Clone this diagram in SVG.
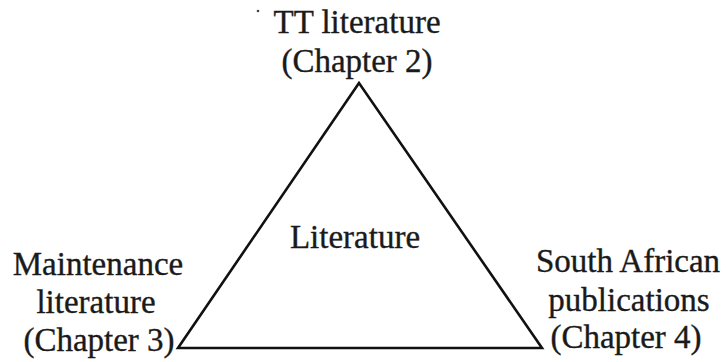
<svg xmlns="http://www.w3.org/2000/svg" width="726" height="362" viewBox="0 0 726 362">
<style>
text{font-family:"Liberation Serif","Times New Roman",serif;font-size:33px;fill:#1a1a1a;stroke:#1a1a1a;stroke-width:0.35;text-anchor:middle}
.edge{stroke:#111;stroke-width:2.6;fill:none;stroke-linejoin:miter}
</style>
<rect width="726" height="362" fill="#fff"/>
<g id="connectors">
<polygon class="edge" points="359,83 178,348 542,348"/>
</g>
<g id="node-tt">
<text x="357" y="33">TT literature</text>
<text x="357" y="72">(Chapter 2)</text>
</g>
<g id="node-center">
<text x="355" y="248">Literature</text>
</g>
<g id="node-maintenance">
<text x="98" y="275">Maintenance</text>
<text x="96" y="313">literature</text>
<text x="99" y="351">(Chapter 3)</text>
</g>
<g id="node-sa">
<text x="628" y="272">South African</text>
<text x="629" y="311">publications</text>
<text x="626" y="348">(Chapter 4)</text>
</g>
<circle cx="258" cy="11" r="1.3" fill="#444"/>
</svg>
